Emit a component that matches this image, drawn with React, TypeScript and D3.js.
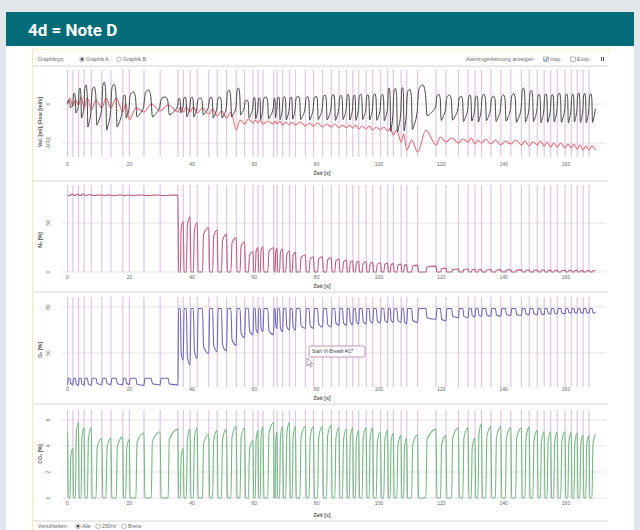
import React, { useMemo } from "react";
import * as d3 from "d3";

// ---------- data ----------
const breathStarts = [
  0.1, 1.8, 3.6, 5.4, 7.7, 11.1, 14.0, 17.8, 19.9, 24.6, 29.8, 35.5, 37.2, 39.4, 41.7, 45.4,
  48.1, 51.1, 54.2, 56.9, 59.6, 61.2, 62.8, 66.2, 67.3, 69.1, 71.3, 73.2, 76.4, 79.0, 81.9, 84.7,
  87.2, 89.6, 91.6, 93.5, 95.9, 98.0, 100.5, 102.8, 104.6, 107.1, 108.9, 112.4, 118.3, 121.5, 125.5, 128.6,
  130.8, 132.9, 135.9, 139.1, 142.3, 145.7, 148.2, 150.8, 153.0, 155.1, 157.2, 159.7, 161.7, 163.6, 165.5, 167.4,
];
const recordEnd = 169.5;
const timeTicks = [0, 20, 40, 60, 80, 100, 120, 140, 160];

const flowStart = 0;
const flowHigh = [
  100, 280, 410, 490, 440, 560, 510, 230, 310, 360, 180, 150, 180, 180, 150, 180,
  180, 360, 410, 100, 170, 160, 180, 150, 180, 190, 180, 200, 190, 200, 230, 240,
  220, 250, 230, 250, 240, 260, 250, 410, 400, 420, 380, 490, 250, 230, 200, 230,
  210, 250, 200, 230, 260, 410, 350, 250, 260, 240, 280, 260, 250, 280, 270, 260,
];
const flowLow = [
  -100, -230, -360, -590, -540, -670, -590, -360, -330, -330, -280, -230, -330, -330, -280, -360,
  -360, -330, -280, -360, -380, -400, -380, -350, -400, -410, -390, -400, -410, -400, -410, -420,
  -400, -410, -420, -400, -410, -420, -430, -700, -720, -690, -650, -300, -420, -410, -450, -440,
  -460, -430, -450, -440, -470, -460, -450, -480, -470, -460, -470, -480, -460, -470, -480, -470,
];

const volStart = 60;
const volBase = [
  26, -51, -26, -103, -154, -103, -103, -205, -410, -205, -179, -205, -205, -205, -231, -256,
  -308, -359, -667, -513, -487, -487, -513, -513, -513, -538, -538, -538, -564, -564, -590, -590,
  -615, -615, -615, -641, -641, -667, -667, -692, -795, -974, -1179, -1231, -1051, -974, -1000, -974,
  -1026, -1000, -1026, -1051, -1026, -1051, -1077, -1051, -1077, -1103, -1103, -1128, -1128, -1154, -1179, -1179,
];
const volAmp = [
  128, 154, 205, 256, 256, 256, 256, 205, 308, 205, 154, 128, 128, 128, 128, 128,
  128, 154, 256, 128, 77, 77, 77, 77, 77, 77, 77, 77, 77, 77, 77, 77,
  77, 77, 77, 77, 77, 77, 77, 77, 128, 205, 256, 564, 205, 103, 103, 103,
  103, 103, 103, 103, 103, 103, 103, 103, 103, 103, 103, 103, 103, 103, 103, 103,
];

const n2Start = 78;
const n2Insp = [
  78, 78, 78, 78, 78, 78, 78, 78, 78, 78, 78, 0, 0, 0, 0, 0,
  0, 0, 0, 0, 0, 0, 0, 0, 0, 0, 0, 0, 0, 0, 0, 0,
  0, 0, 0, 0, 0, 0, 0, 0, 0, 0, 0, 0, 0, 0, 0, 0,
  0, 0, 0, 0, 0, 0, 0, 0, 0, 0, 0, 0, 0, 0, 0, 0,
];
const n2Alv = [
  79.5, 79.5, 79.5, 79, 78.5, 78.5, 78.5, 78.5, 78.5, 78.5, 78.5, 51.3, 56.4, 50.3, 45.2, 42.9,
  38.4, 35, 30.9, 20.7, 24.8, 25.8, 24.8, 24.1, 23.5, 21.4, 20.1, 17.3, 15.6, 15.6, 14.6, 13.3,
  12.2, 11.5, 11, 10.5, 10, 9.5, 9, 8.5, 8, 7.5, 7, 6, 4, 3, 3, 2.8,
  2.6, 2.5, 2.4, 2.3, 2.2, 2.1, 2, 2, 1.9, 1.8, 1.8, 1.7, 1.7, 1.6, 1.6, 1.5,
];

const o2Start = 29.5;
const o2Insp = [
  33.5, 33.5, 33.5, 33.5, 33.5, 33.5, 33.5, 33.5, 33.5, 33.5, 33.5, 79, 79, 79, 79, 79,
  79, 79, 79, 79, 79, 79, 79, 79, 79, 79, 79, 79, 79, 79, 79, 79,
  79, 79, 79, 79, 79, 79, 79, 79, 79, 79, 79, 79, 79, 79, 79, 79,
  79, 79, 79, 79, 79, 79, 79, 79, 79, 79, 79, 79, 79, 79, 79, 79,
];
const o2Alv = [
  29.5, 29, 29.2, 29, 29.5, 29.5, 29.3, 29.5, 29, 29.3, 29.2, 45.4, 42.2, 46.5, 49.8, 50.9,
  51.3, 55, 60, 62, 63, 64, 62, 66, 64, 65, 65, 66, 66, 67, 67, 68,
  68, 68.5, 69, 69, 69.5, 69.5, 70, 70, 70, 69, 70, 72, 71, 73, 73, 73.5,
  74, 74, 74, 74.5, 74.5, 75, 75, 75, 75.5, 75.5, 75.5, 76, 76, 76, 76, 76,
];

const co2Start = 5.0;
const co2Insp = [
  0, 0, 0, 0, 0, 0, 0, 0, 0, 0, 0, 0, 0, 0, 0, 0,
  0, 0, 0, 0, 0, 0, 0, 0, 0, 0, 0, 0, 0, 0, 0, 0,
  0, 0, 0, 0, 0, 0, 0, 0, 0, 0, 0, 0, 0, 0, 0, 0,
  0, 0, 0, 0, 0, 0, 0, 0, 0, 0, 0, 0, 0, 0, 0, 0,
];
const co2Alv = [
  3.8, 5.8, 5.4, 5.4, 4.6, 4.6, 4.7, 4.5, 5.0, 5.1, 5.3, 3.8, 5.3, 5.4, 4.9, 5.2,
  5.3, 5.5, 5.4, 4.4, 5.2, 5.5, 5.8, 5.1, 5.5, 5.8, 5.5, 5.5, 5.5, 5.5, 5.6, 5.4,
  5.3, 5.4, 5.2, 5.4, 5.4, 5.1, 5.2, 5.0, 4.8, 4.6, 4.85, 5.3, 4.8, 5.4, 5.4, 4.6,
  5.7, 5.5, 5.5, 5.4, 5.4, 5.45, 5.2, 5.1, 5.1, 5.05, 5.1, 5.05, 5.0, 4.85, 4.8, 4.9,
];

const volTicks = [0, -1000];
const n2Ticks = [50, 0];
const o2Ticks = [80, 50];
const co2Ticks = [6, 4, 2, 0];

// ---------- trace builders (per-breath key points) ----------
type P = [number, number];
const breathEnd = (i: number) => (i + 1 < breathStarts.length ? breathStarts[i + 1] : recordEnd);

function gasTrace(start: number, insp: number[], alv: number[]): P[] {
  const pts: P[] = [[0, start]];
  breathStarts.forEach((s, i) => {
    const e = breathEnd(i);
    const D = e - s;
    const prev = i === 0 ? start : alv[i - 1];
    const q = insp[i];
    const a = alv[i];
    pts.push([s, prev]);
    pts.push([s + Math.min(0.28, 0.12 * D), q]);
    pts.push([s + 0.45 * D, q]);
    pts.push([s + 0.45 * D + Math.min(0.35, 0.15 * D), q + (a - q) * 0.85]);
    pts.push([e - 0.05, a]);
  });
  return pts;
}

function flowTrace(): P[] {
  const pts: P[] = [[0, flowStart]];
  breathStarts.forEach((s, i) => {
    const e = breathEnd(i);
    const D = e - s;
    const hi = flowHigh[i];
    const lo = flowLow[i];
    pts.push([s, 0]);
    pts.push([s + 0.1 * D, hi * 0.85]);
    pts.push([s + 0.28 * D, hi]);
    pts.push([s + 0.42 * D, hi * 0.55]);
    pts.push([s + 0.52 * D, lo]);
    pts.push([s + 0.7 * D, lo * 0.8]);
    pts.push([e - 0.03 * D, lo * 0.25]);
  });
  return pts;
}

function volTrace(): P[] {
  const pts: P[] = [[0, volStart]];
  breathStarts.forEach((s, i) => {
    const e = breathEnd(i);
    const D = e - s;
    pts.push([s, volBase[i]]);
    pts.push([s + 0.45 * D, volBase[i] + volAmp[i]]);
  });
  pts.push([recordEnd, volBase[volBase.length - 1]]);
  return pts;
}

// ---------- layout ----------
const FONT = "'Liberation Sans', Arial, sans-serif";
const x = d3.scaleLinear().domain([0, 160]).range([67.3, 566]);
const MARK = "#e0c6e3";
const GRID = "#dcdcdc";
const TXT = "#6a6a6a";

type Series = { pts: P[]; color: string; w?: number };
type PanelProps = {
  id: string;
  y: d3.ScaleLinear<number, number>;
  top: number;
  bottom: number;
  ticks: number[];
  title: string;
  titleY: number;
  tickY: number;
  zeitY: number;
  sepY: number;
  series: Series[];
};

function Panel({ id, y, top, bottom, ticks, title, titleY, tickY, zeitY, sepY, series }: PanelProps) {
  return (
    <g>
      <defs>
        <clipPath id={id}>
          <rect x={60} y={top - 2} width={545} height={bottom - top + 4} />
        </clipPath>
      </defs>
      {ticks.map((v) => (
        <line key={"g" + v} x1={62} x2={606} y1={y(v)} y2={y(v)} stroke={GRID} strokeWidth={0.8} />
      ))}
      {breathStarts.map((t, i) => (
        <line key={"m" + i} x1={x(t)} x2={x(t)} y1={top} y2={bottom} stroke={MARK} strokeWidth={1.2} />
      ))}
      <g clipPath={`url(#${id})`}>
        {series.map((s, i) => (
          <path
            key={i}
            d={
              d3
                .line<P>()
                .x((d) => x(d[0]))
                .y((d) => y(d[1]))
                .curve(d3.curveMonotoneX)(s.pts) || ""
            }
            fill="none"
            stroke={s.color}
            strokeWidth={s.w ?? 1.1}
          />
        ))}
      </g>
      {ticks.map((v) => (
        <text
          key={"t" + v}
          transform={`translate(50,${y(v)}) rotate(-90)`}
          textAnchor="middle"
          fontSize={5}
          fill={TXT}
        >
          {String(v)}
        </text>
      ))}
      <text
        transform={`translate(42,${titleY}) rotate(-90)`}
        textAnchor="middle"
        fontSize={5.2}
        fontWeight="bold"
        fill="#555"
      >
        {title}
      </text>
      {timeTicks.map((t) => (
        <text key={"x" + t} x={x(t)} y={tickY} textAnchor="middle" fontSize={5} fill={TXT}>
          {t}
        </text>
      ))}
      <text x={322} y={zeitY} textAnchor="middle" fontSize={5.2} fontWeight="bold" fill="#555">
        Zeit [s]
      </text>
      <line x1={33} x2={608} y1={sepY} y2={sepY} stroke="#d6d6d6" strokeWidth={1} />
    </g>
  );
}

export default function App() {
  const traces = useMemo(
    () => ({
      vol: volTrace(),
      flow: flowTrace(),
      n2: gasTrace(n2Start, n2Insp, n2Alv),
      o2: gasTrace(o2Start, o2Insp, o2Alv),
      co2: gasTrace(co2Start, co2Insp, co2Alv),
    }),
    []
  );

  const yVol = d3.scaleLinear().domain([0, -1000]).range([104, 143]);
  const yN2 = d3.scaleLinear().domain([0, 50]).range([272, 223]);
  const yO2 = d3.scaleLinear().domain([50, 80]).range([353, 307]);
  const yCO2 = d3.scaleLinear().domain([0, 6]).range([498, 420]);

  const radio = (cx: number, cy: number, on: boolean) => (
    <g>
      <circle cx={cx} cy={cy} r={2.3} fill="#fff" stroke="#888" strokeWidth={0.6} />
      {on && <circle cx={cx} cy={cy} r={1.2} fill="#333" />}
    </g>
  );
  const check = (cx: number, cy: number, on: boolean) => (
    <g>
      <rect x={cx - 2.3} y={cy - 2.3} width={4.6} height={4.6} fill="#fff" stroke="#888" strokeWidth={0.6} />
      {on && <path d={`M${cx - 1.6},${cy} L${cx - 0.4},${cy + 1.5} L${cx + 1.8},${cy - 1.8}`} fill="none" stroke="#2a5fa8" strokeWidth={0.9} />}
    </g>
  );

  return (
    <svg
      width={640}
      height={530}
      style={{ position: "absolute", left: 0, top: 0, display: "block" }}
      fontFamily={FONT}
    >
      <rect x={0} y={0} width={640} height={530} fill="#e2e6ea" />
      {/* card */}
      <rect x={6} y={12} width={628} height={518} fill="#ffffff" />
      <rect x={6} y={12} width={628} height={34} fill="#046b78" />
      <text
        x={28}
        y={36}
        fontFamily="Roboto, 'Open Sans', sans-serif"
        fontWeight="bold"
        fontSize={17}
        fill="#ffffff"
      >
        4d = Note D
      </text>

      {/* screenshot frame */}
      <line x1={32.5} x2={32.5} y1={49} y2={530} stroke="#f4e9b8" strokeWidth={1.2} />
      <line x1={32} x2={612} y1={49.5} y2={49.5} stroke="#f7f0cf" strokeWidth={1} />

      {/* toolbar */}
      <text x={38} y={61} fontSize={5.2} fill={TXT}>Graphiktyp:</text>
      {radio(82, 59.3, true)}
      <text x={86} y={61} fontSize={5.2} fill={TXT}>Graphik A</text>
      {radio(119, 59.3, false)}
      <text x={123} y={61} fontSize={5.2} fill={TXT}>Graphik B</text>
      <text x={466} y={61} fontSize={5.2} fill={TXT}>Atemzugerkennung anzeigen:</text>
      {check(546, 59.3, true)}
      <text x={550} y={61} fontSize={5.2} fill={TXT}>Insp.</text>
      {check(573, 59.3, false)}
      <text x={577} y={61} fontSize={5.2} fill={TXT}>Exsp.</text>
      <rect x={601} y={57} width={1} height={4} fill="#555" />
      <rect x={603} y={57} width={1} height={4} fill="#555" />
      <line x1={33} x2={608} y1={66} y2={66} stroke="#d6d6d6" strokeWidth={1} />

      <Panel
        id="c1"
        y={yVol}
        top={70}
        bottom={157}
        ticks={volTicks}
        title="Vol. [ml], Flow [ml/s]"
        titleY={122}
        tickY={166}
        zeitY={175}
        sepY={181}
        series={[
          { pts: traces.vol, color: "#e8707a" },
          { pts: traces.flow, color: "#444444", w: 1 },
        ]}
      />
      <Panel
        id="c2"
        y={yN2}
        top={185}
        bottom={272}
        ticks={n2Ticks}
        title="N₂ [%]"
        titleY={240}
        tickY={279}
        zeitY={288}
        sepY={292}
        series={[{ pts: traces.n2, color: "#bd5f80" }]}
      />
      <Panel
        id="c3"
        y={yO2}
        top={297}
        bottom={387}
        ticks={o2Ticks}
        title="O₂ [%]"
        titleY={350}
        tickY={391}
        zeitY={400}
        sepY={404}
        series={[{ pts: traces.o2, color: "#7068bb" }]}
      />
      <Panel
        id="c4"
        y={yCO2}
        top={410}
        bottom={498}
        ticks={co2Ticks}
        title="CO₂ [%]"
        titleY={454}
        tickY={505}
        zeitY={517}
        sepY={521}
        series={[{ pts: traces.co2, color: "#72ba80" }]}
      />

      {/* tooltip */}
      <rect x={309} y={346} width={56} height={11} rx={1.5} fill="#ffffff" stroke="#b873aa" strokeWidth={0.8} />
      <text x={312} y={353.3} fontSize={4.8} fill="#444">Start Vt-Breath #17</text>
      <path d="M307,358 L307,366 L309,364 L310.5,367 L311.5,366.5 L310.2,363.6 L312.6,363.6 Z" fill="#fff" stroke="#555" strokeWidth={0.5} />

      {/* bottom controls */}
      <text x={38} y={528} fontSize={5.2} fill={TXT}>Verschieben:</text>
      {radio(78, 526.3, true)}
      <text x={82} y={528} fontSize={5.2} fill={TXT}>Alle</text>
      {radio(98, 526.3, false)}
      <text x={102} y={528} fontSize={5.2} fill={TXT}>250ml</text>
      {radio(124, 526.3, false)}
      <text x={128} y={528} fontSize={5.2} fill={TXT}>Breite</text>
    </svg>
  );
}
